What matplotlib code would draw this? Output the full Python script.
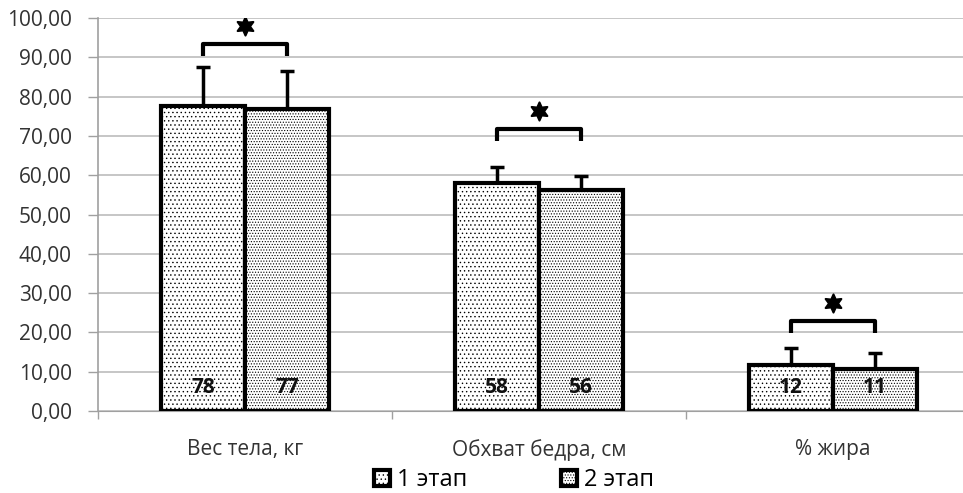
import matplotlib
matplotlib.use("Agg")
import matplotlib.pyplot as plt
from matplotlib.patches import Patch
import numpy as np

plt.rcParams['font.family'] = ['Open Sans', 'DejaVu Sans']
plt.rcParams['hatch.color'] = '#9a9a9a'
plt.rcParams['hatch.linewidth'] = 0.5

categories = ['Вес тела, кг', 'Обхват бедра, см', '% жира']
stage1 = [77.6, 58.0, 11.7]
stage2 = [76.8, 56.2, 10.7]
err1 = [9.9, 4.1, 4.4]
err2 = [9.7, 3.7, 4.1]
sig_level = [93.4, 71.8, 22.9]
series = ['1 этап', '2 этап']
yticks = [0, 10, 20, 30, 40, 50, 60, 70, 80, 90, 100]

fig = plt.figure(figsize=(9.63, 4.93), dpi=100)
ax = fig.add_axes([98 / 963, 1 - 411 / 493, 882 / 963, 393 / 493])

x = np.arange(len(categories))
w = 0.286
hatches = ['....', '......']
for i, (vals, errs) in enumerate([(stage1, err1), (stage2, err2)]):
    pos = x + (i - 0.5) * w
    ax.bar(pos, vals, w, color='white', edgecolor='black', linewidth=3,
           hatch=hatches[i], zorder=3)
    ax.errorbar(pos, vals, yerr=[np.zeros(len(vals)), errs], fmt='none',
                ecolor='black', elinewidth=2.5, capsize=5, capthick=2.5, zorder=2)
    for p, v in zip(pos, vals):
        ax.text(p, 6, f'{round(v)}', ha='center', va='center', fontsize=15,
                fontweight='bold', color='#111111', zorder=4)

# significance brackets
for xi, yl in zip(x, sig_level):
    xl, xr = xi - w / 2, xi + w / 2
    ax.plot([xl, xl, xr, xr], [yl - 3.1, yl, yl, yl - 3.1], color='black',
            lw=3, solid_joinstyle='round', solid_capstyle='butt', zorder=4)
    ax.scatter([xi], [yl + 4.5], marker=(6, 1, 0), s=170, color='black',
               linewidths=1.5, edgecolors='black', zorder=4)

ax.set_xlim(-0.5, 2.5)
ax.set_ylim(0, 100)
ax.set_yticks(yticks)
ax.set_yticklabels([f'{t:.2f}'.replace('.', ',') for t in yticks],
                   fontsize=15, color='#333333')
ax.set_xticks(x)
ax.set_xticklabels(categories, fontsize=15, color='#333333')
ax.set_xticks([-0.5, 0.5, 1.5, 2.5], minor=True)
ax.tick_params(axis='x', which='major', length=0, pad=20)
ax.tick_params(axis='x', which='minor', length=6, color='#a0a0a0', width=1)
ax.tick_params(axis='y', length=7, color='#a0a0a0', width=1, pad=12)
ax.grid(axis='y', color='#bcbcbc', lw=1.2, zorder=0)
for s in ['top', 'right']:
    ax.spines[s].set_visible(False)
ax.spines['left'].set_color('#a0a0a0')
ax.spines['bottom'].set_color('#a0a0a0')
ax.spines['left'].set_linewidth(1.2)

handles = [Patch(facecolor='white', edgecolor='black', linewidth=3,
                 hatch=h, label=s) for h, s in zip(hatches, series)]
fig.legend(handles=handles, loc='center', bbox_to_anchor=(514 / 963, 1 - 480 / 493),
           ncol=2, frameon=False, fontsize=17, handlelength=0.65,
           handleheight=0.65, handletextpad=0.3, columnspacing=4.0,
           borderpad=0, borderaxespad=0)

fig.savefig('out.png', dpi=100)
